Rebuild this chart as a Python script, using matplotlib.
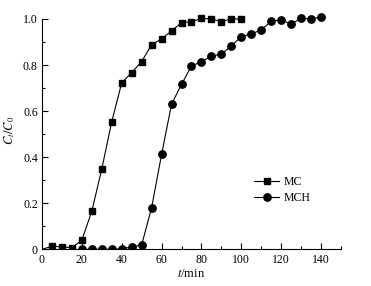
import matplotlib
matplotlib.use("Agg")
import matplotlib.pyplot as plt
from matplotlib.ticker import MultipleLocator, FixedLocator

# 穿透曲线数据
mc_t = [0, 5, 10, 15, 20, 25, 30, 35, 40, 45, 50, 55, 60, 65, 70, 75, 80, 85, 90, 95, 100]
mc_c = [0.0, 0.014, 0.011, 0.007, 0.04, 0.166, 0.349, 0.554, 0.723, 0.767, 0.815,
        0.888, 0.913, 0.948, 0.984, 0.988, 1.002, 1.0, 0.988, 1.0, 1.0]

mch_t = [20, 25, 30, 35, 40, 45, 50, 55, 60, 65, 70, 75, 80, 85, 90, 95, 100,
         105, 110, 115, 120, 125, 130, 135, 140]
mch_c = [0.0, 0.0, 0.0, 0.0, 0.002, 0.011, 0.019, 0.181, 0.412, 0.63, 0.716, 0.796,
         0.814, 0.839, 0.847, 0.883, 0.923, 0.935, 0.952, 0.99, 0.996, 0.977,
         1.003, 1.0, 1.007]

plt.rcParams["font.family"] = ["Liberation Serif", "DejaVu Serif"]
plt.rcParams["mathtext.fontset"] = "stix"

fig = plt.figure(figsize=(3.71, 2.86), dpi=100)
ax = fig.add_axes([0.1132, 0.128, 0.8058, 0.83])

ax.plot(mc_t, mc_c, "-s", color="black", lw=0.8, ms=4.9, markevery=list(range(1, len(mc_t))),
        label="MC")
ax.plot(mch_t, mch_c, "-o", color="black", lw=0.8, ms=5.3, label="MCH")

ax.set_xlim(0, 150)
ax.set_ylim(0, 1.03)
ax.spines["left"].set_bounds(0, 1.0)
ax.spines["top"].set_visible(False)
ax.spines["right"].set_visible(False)
for s in ("left", "bottom"):
    ax.spines[s].set_linewidth(0.8)

ax.xaxis.set_major_locator(MultipleLocator(20))
ax.xaxis.set_minor_locator(MultipleLocator(10))
ax.yaxis.set_major_locator(FixedLocator([0, 0.2, 0.4, 0.6, 0.8, 1.0]))
ax.yaxis.set_minor_locator(FixedLocator([0.1, 0.3, 0.5, 0.7, 0.9]))
ax.set_yticklabels(["0", "0.2", "0.4", "0.6", "0.8", "1.0"])
ax.tick_params(which="both", direction="in", width=0.8, labelsize=8.5, pad=3)
ax.tick_params(which="major", length=4.5)
ax.tick_params(which="minor", length=2.5)

ax.set_ylabel(r"$C_t/C_0$", fontsize=9, labelpad=4)
ax.set_xlabel(r"$t$/min", fontsize=9, labelpad=2)

ax.legend(loc="upper left", bbox_to_anchor=(0.694, 0.328), frameon=False, fontsize=8.5,
          handlelength=2.1, handletextpad=0.4, labelspacing=0.35, borderaxespad=0)

fig.savefig("out.png", dpi=100)
